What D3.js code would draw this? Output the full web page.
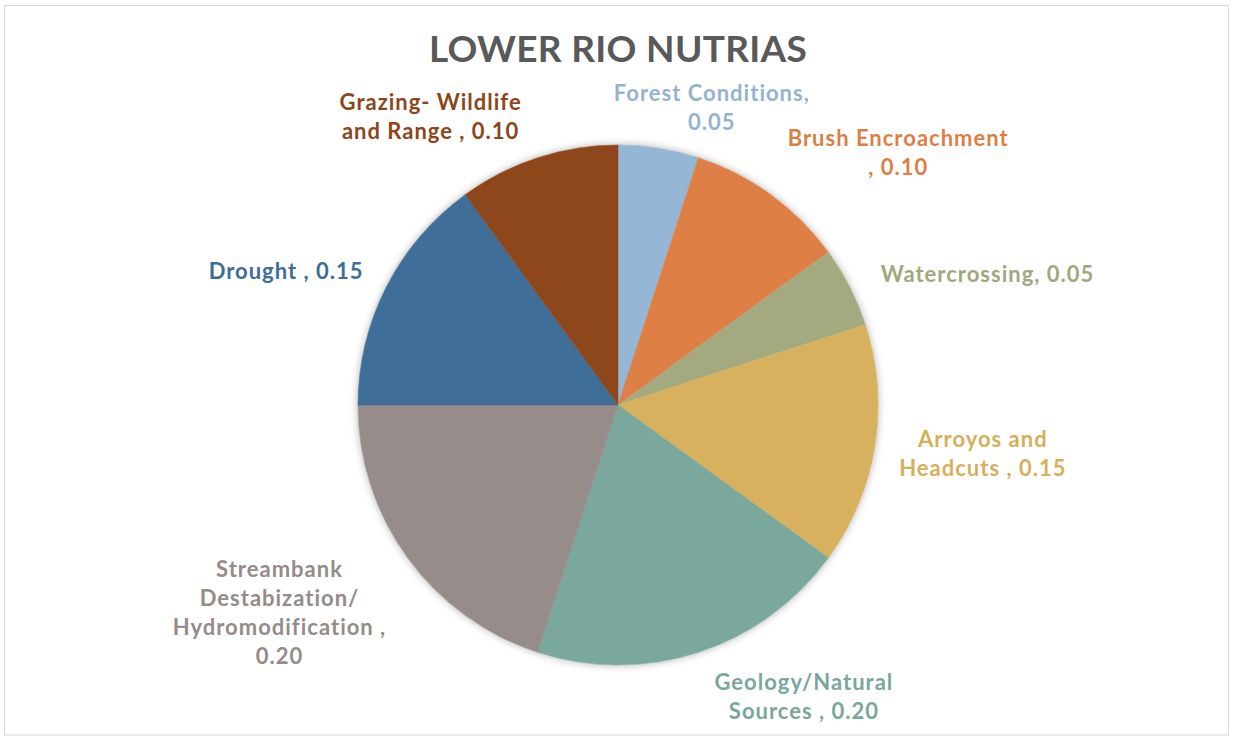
<!DOCTYPE html>
<html lang="en">
<meta charset="utf-8"/>
<head>
<style>
	body { margin: 0; background: #FFFFFF; }
	svg { display: block; }
	text { font-family: 'Lato', 'Open Sans', sans-serif; font-weight: bold; }
	#title { font-size: 37px; fill: #595959; letter-spacing: 0.3px; }
	.label { font-size: 22px; letter-spacing: 1px; }
</style>
</head>
<body>
<svg id="chart" width="1233" height="736"></svg>

<script src="https://d3js.org/d3.v7.min.js"></script>
<script>
// data
let categories = ["Forest Conditions", "Brush Encroachment", "Watercrossing", "Arroyos and Headcuts",
	"Geology/Natural Sources", "Streambank Destabization/ Hydromodification", "Drought", "Grazing- Wildlife and Range"]
let values = [0.05, 0.10, 0.05, 0.15, 0.20, 0.20, 0.15, 0.10]
// how the labels wrap, one array of lines per slice
let labelLines = [
	["Forest Conditions,", "0.05"],
	["Brush Encroachment", ", 0.10"],
	["Watercrossing, 0.05"],
	["Arroyos and", "Headcuts , 0.15"],
	["Geology/Natural", "Sources , 0.20"],
	["Streambank", "Destabization/", "Hydromodification ,", "0.20"],
	["Drought , 0.15"],
	["Grazing- Wildlife", "and Range , 0.10"]
]
let colors = ["#95B6D4", "#DE8046", "#A3AA80", "#D7B15D", "#7BA89D", "#968C8A", "#3F6E98", "#8E471B"]
let labelColors = ["#93B3D1", "#DC7F46", "#A0A87E", "#D6AF5B", "#7AA79B", "#958B89", "#3E6D97", "#8C461C"]

// label placement (angle in degrees clockwise from 12 o'clock, distance from centre)
let labelPolar = [[17.5, 312], [48, 377], [70.5, 392], [97.5, 368], [147.5, 346], [238.5, 397], [292, 358], [327, 344]]

let svg = d3.select("#chart")
let cx = 618
let cy = 405
let radius = 260

// chart border
svg.append("rect")
	.attr("x", 4.5).attr("y", 5.5)
	.attr("width", 1224).attr("height", 729.5)
	.attr("fill", "#FFFFFF")
	.attr("stroke", "#D9D9D9")
	.attr("stroke-width", 1)

svg.append("text")
	.attr("id", "title")
	.attr("x", cx)
	.attr("y", 62)
	.attr("text-anchor", "middle")
	.text("LOWER RIO NUTRIAS")

let defs = svg.append("defs")
let f = defs.append("filter").attr("id", "shadow")
	.attr("x", "-10%").attr("y", "-10%").attr("width", "120%").attr("height", "120%")
f.append("feDropShadow")
	.attr("dx", 0).attr("dy", 0)
	.attr("stdDeviation", 4)
	.attr("flood-color", "#000000")
	.attr("flood-opacity", 0.35)

let data = categories.map((c, i) => ({name: c, value: values[i], i: i}))

let pie = d3.pie().sort(null).value(d => d.value)
let arc = d3.arc().innerRadius(0).outerRadius(radius)

let g = svg.append("g")
	.attr("transform", "translate(" + cx + "," + cy + ")")

g.append("circle")
	.attr("r", radius - 0.5)
	.attr("fill", "#FFFFFF")
	.attr("filter", "url(#shadow)")

g.selectAll("path")
	.data(pie(data))
	.enter()
	.append("path")
	.attr("d", arc)
	.attr("fill", d => colors[d.data.i])
	.attr("stroke", d => colors[d.data.i])
	.attr("stroke-width", 0.5)

let lineH = 29
let labels = g.selectAll(".label")
	.data(pie(data))
	.enter()
	.append("text")
	.attr("class", "label")
	.attr("text-anchor", "middle")
	.attr("fill", d => labelColors[d.data.i])
	.attr("transform", d => {
		let p = labelPolar[d.data.i]
		let a = p[0] * Math.PI / 180
		let n = labelLines[d.data.i].length
		let x = Math.sin(a) * p[1]
		let y = -Math.cos(a) * p[1] - (n - 1) * lineH / 2 + 8
		return "translate(" + x + "," + y + ")"
	})

labels.selectAll("tspan")
	.data(d => labelLines[d.data.i])
	.enter()
	.append("tspan")
	.attr("x", 0)
	.attr("dy", (d, k) => k == 0 ? 0 : lineH)
	.text(d => d)
</script>
</body>
</html>
